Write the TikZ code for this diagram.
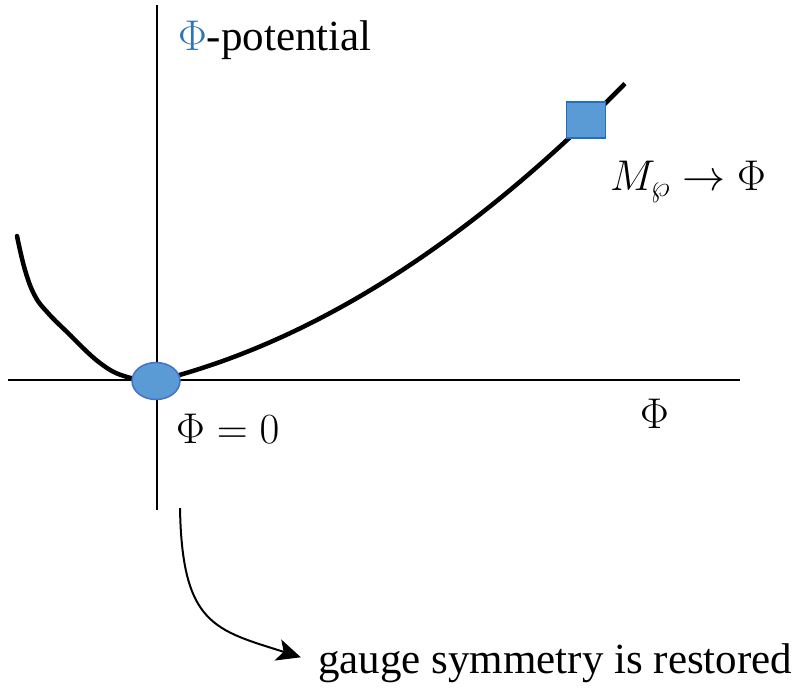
\RequirePackage{fix-cm}
\documentclass[tikz,border=0pt]{standalone}
\usepackage{fontspec}
\setmainfont{Liberation Serif}
\usetikzlibrary{arrows.meta,shapes.geometric}
\definecolor{fillblue}{HTML}{5B9BD5}
\definecolor{edgeblue}{HTML}{4472C4}
\definecolor{sqedge}{HTML}{1F70C0}
\definecolor{phiblue}{HTML}{2E75B6}
\tikzset{
  axis/.style={line width=2pt},
  pot/.style={line width=4.5pt},
  lbl/.style={inner sep=0pt, font=\fontsize{43}{50}\selectfont},
}
\begin{document}
\begin{tikzpicture}[x=1pt,y=-1pt]
\useasboundingbox (0,0) rectangle (792,689);
% axes
\coordinate (vtop) at (157,5);
\coordinate (vbot) at (157,510);
\coordinate (hl) at (8,380);
\coordinate (hr) at (740,380);
\draw[axis] (vtop) -- (vbot);
\draw[axis] (hl) -- (hr);
% potential curve
\draw[pot, line cap=round] plot[smooth, tension=0.7] coordinates {(17,236) (25,270) (35,296) (48,313) (67,332) (100,363) (127,377) (157,381)};
\draw[pot] plot[domain=0:468, samples=60] ({\x+157}, {381-0.25*\x-0.00083*\x*\x});
% markers
\node[draw=edgeblue, fill=fillblue, line width=1.5pt, ellipse, minimum width=48pt, minimum height=37pt, inner sep=0pt] (orig) at (156,381) {};
\node[draw=sqedge, fill=fillblue, line width=1.5pt, minimum width=39pt, minimum height=36pt, inner sep=0pt] (sq) at (586,120) {};
% labels
\node[lbl, anchor=base west] (pt) at (178,50) {\textcolor{phiblue}{$\Phi$}-potential};
\node[lbl, anchor=base west] (mp) at (610,190) {$M_{\wp}\rightarrow\Phi$};
\node[lbl, anchor=base west] (z) at (176,443) {$\Phi = 0$};
\node[lbl, anchor=base west] (ax) at (640,428) {$\Phi$};
\node[lbl, anchor=base west] (gs) at (318,673) {gauge symmetry is restored};
% arrow
\coordinate (as) at (180,508);
\draw[line width=2pt, shorten >=18pt, -{Stealth[length=24pt, width=22pt, inset=6pt]}] (as) .. controls (182,625) and (215,630) .. (gs.west);
\end{tikzpicture}
\end{document}
